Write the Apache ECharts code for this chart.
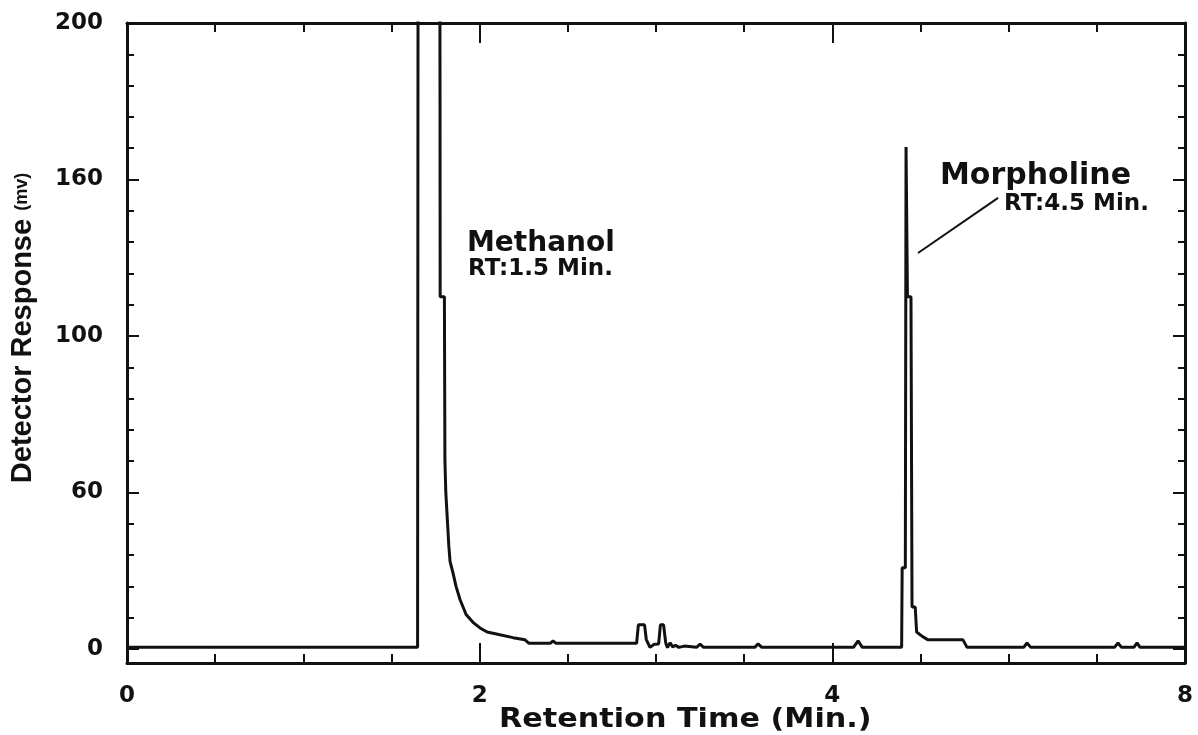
<!DOCTYPE html>
<html>
<head>
<meta charset="utf-8">
<script src="https://cdn.jsdelivr.net/npm/echarts@6/dist/echarts.min.js"></script>
<style>
html,body{margin:0;padding:0;background:#fff;}
#chart{width:1198px;height:735px;}
</style>
</head>
<body>
<div id="chart"></div>
<script>
// Retention time (min) and detector response (mv)
const retentionTime = [
  0, 1.648, 1.651, 1.774, 1.776, 1.800, 1.803, 1.808, 1.815, 1.825, 1.832, 1.850, 1.866,
  1.889, 1.923, 1.962, 2.002, 2.042, 2.115, 2.189, 2.257, 2.280, 2.400, 2.416, 2.433,
  2.890, 2.900, 2.935, 2.945, 2.966, 2.990, 3.015, 3.025, 3.043, 3.055, 3.065, 3.080,
  3.095, 3.110, 3.130, 3.160, 3.230, 3.250, 3.270, 3.560, 3.579, 3.600, 4.120, 4.146,
  4.170, 4.393, 4.396, 4.414, 4.418, 4.426, 4.430, 4.446, 4.452, 4.470, 4.478, 4.510,
  4.543, 4.741, 4.764, 5.085, 5.104, 5.125, 5.600, 5.620, 5.640, 5.710, 5.728, 5.745, 6.000
];
const response = [
  0.5, 0.5, 260, 260, 112.5, 112.5, 60, 50, 43, 33, 28, 24, 20,
  15.7, 11, 8.5, 6.7, 5.4, 4.5, 3.6, 2.9, 1.8, 1.8, 2.6, 1.8,
  1.8, 7.7, 7.7, 3.0, 0.5, 1.5, 1.6, 7.7, 7.7, 2.0, 0.4, 2.0,
  0.6, 1.2, 0.5, 0.9, 0.5, 1.5, 0.5, 0.5, 1.6, 0.5, 0.5, 2.6,
  0.5, 0.5, 25.9, 25.9, 160.4, 112.5, 112.5, 112.5, 13.4, 13.4, 5.4, 4.0,
  2.9, 2.9, 0.5, 0.5, 1.9, 0.5, 0.5, 1.9, 0.5, 0.5, 1.9, 0.5, 0.5
];
// Axis ticks and labels (as printed on the reference)
const yTickValues = [0, 50, 100, 150, 200];
const yTickLabels = ['0', '60', '100', '160', '200'];
const xTickValues = [0, 2, 4, 6];
const xTickLabels = ['0', '2', '4', '8'];
const xTitle = 'Retention Time (Min.)';
// Annotation leader line (data coordinates) for Morpholine
const leaderLine = [[4.486, 126.5], [4.94, 144.1]];

const yMinor = [];
for (let v = 10; v < 200; v += 10) { if (v % 50 !== 0) yMinor.push(v); }

const chart = echarts.init(document.getElementById('chart'));
const data = retentionTime.map((t, i) => [t, response[i]]);
const yMin = -4.5, yMax = 200;
const black = '#111';

function yAxisCfg(pos, values, len, isMain) {
  return {
    type: 'value', position: pos, min: yMin, max: yMax,
    axisLine: { show: isMain, onZero: false, lineStyle: { color: black, width: 3 } },
    axisTick: { show: true, inside: true, length: len, customValues: values, lineStyle: { color: black, width: 2 } },
    axisLabel: { show: false },
    splitLine: { show: false }
  };
}

const yLeft = yAxisCfg('left', yTickValues, 12, true);
yLeft.axisLabel = {
  show: true, customValues: yTickValues, margin: 24,
  formatter: v => yTickLabels[yTickValues.indexOf(v)],
  color: black, fontFamily: 'DejaVu Sans', fontWeight: 'bold', fontSize: 23
};
yLeft.name = '{b|Detector Response }{s|(mv)}';
yLeft.nameLocation = 'middle';
yLeft.nameGap = 90;
yLeft.nameTextStyle = {
  padding: [0, 0, 0, 30],
  rich: {
    b: { fontFamily: 'Liberation Sans', fontWeight: 'bold', fontSize: 29, color: black },
    s: { fontFamily: 'Liberation Sans', fontWeight: 'bold', fontSize: 18, color: black }
  }
};

function xAxisCfg(pos, isMain) {
  return {
    type: 'value', position: pos, min: 0, max: 6, interval: 2,
    axisLine: { show: true, onZero: false, lineStyle: { color: black, width: 3 } },
    axisTick: { show: true, inside: true, length: 20, lineStyle: { color: black, width: 2 } },
    minorTick: { show: true, splitNumber: 4, length: 9, lineStyle: { color: black, width: 2 } },
    axisLabel: isMain ? {
      show: true, margin: 22,
      formatter: v => xTickLabels[xTickValues.indexOf(v)],
      color: black, fontFamily: 'DejaVu Sans', fontWeight: 'bold', fontSize: 23
    } : { show: false },
    splitLine: { show: false }, minorSplitLine: { show: false }
  };
}

const option = {
  backgroundColor: '#fff',
  animation: false,
  grid: { left: 127, right: 13, top: 23, bottom: 72, containLabel: false, outerBoundsMode: 'none' },
  xAxis: [xAxisCfg('bottom', true), xAxisCfg('top', false)],
  yAxis: [
    yLeft,
    yAxisCfg('left', yMinor, 7, false),
    yAxisCfg('right', yTickValues, 12, true),
    yAxisCfg('right', yMinor, 7, false)
  ],
  series: [{
    type: 'line', xAxisIndex: 0, yAxisIndex: 0, data: data,
    showSymbol: false, symbol: 'none', clip: true,
    lineStyle: { color: black, width: 3 },
    markLine: {
      silent: true, symbol: ['none', 'none'],
      lineStyle: { color: black, width: 2, type: 'solid' },
      label: { show: false },
      data: [[{ coord: leaderLine[0] }, { coord: leaderLine[1] }]]
    }
  }],
  graphic: [
    { type: 'text', x: 499, y: 720, scaleX: 1.12,
      style: { text: xTitle, fill: black, font: 'bold 27px "DejaVu Sans"', align: 'left', verticalAlign: 'middle' } },
    { type: 'text', left: 467, top: 230, style: { text: 'Methanol', fill: black, font: 'bold 28px "DejaVu Sans"' } },
    { type: 'text', left: 468, top: 258, style: { text: 'RT:1.5 Min.', fill: black, font: 'bold 23px "DejaVu Sans"' } },
    { type: 'text', left: 940, top: 161, style: { text: 'Morpholine', fill: black, font: 'bold 30px "DejaVu Sans"' } },
    { type: 'text', left: 1004, top: 193, style: { text: 'RT:4.5 Min.', fill: black, font: 'bold 23px "DejaVu Sans"' } }
  ]
};
chart.setOption(option);
</script>
</body>
</html>
